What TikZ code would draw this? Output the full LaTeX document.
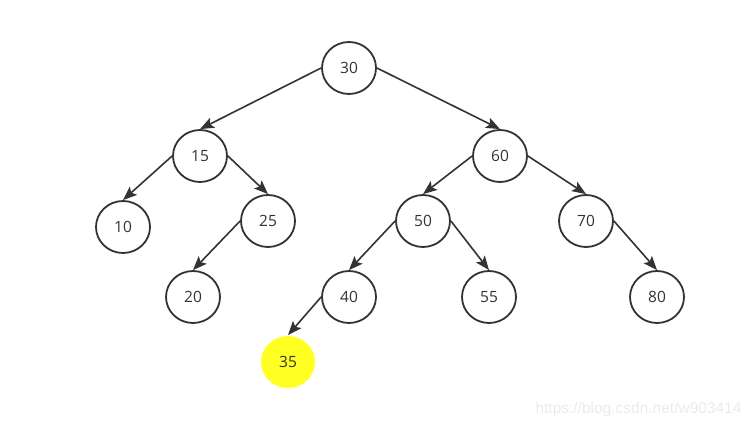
\documentclass[tikz,border=0pt]{standalone}
\usepackage{fontspec}
\setmainfont{Open Sans}
\newfontfamily\markfont{Liberation Sans}
\usetikzlibrary{arrows.meta}
\usetikzlibrary{shapes, shapes.geometric}
\definecolor{ink}{HTML}{333333}
\definecolor{hilite}{HTML}{FFFF22}
\tikzset{>={Stealth[length=14pt,width=11pt,inset=3pt]}}
\tikzstyle{key} = [%
					ellipse,
					draw = ink,
					line width = 1.8pt,
					minimum width = 54pt,
					minimum height = 52pt,
					inner sep = 0pt,
					text = ink,
					font = \fontsize{15.5}{17}\selectfont]
\tikzstyle{newkey} = [%
					key,
					draw = none,
					fill = hilite]
\tikzstyle{link} = [%
					->,
					line width = 1.6pt,
					color = ink]

\begin{document}
\begin{tikzpicture}[x=1pt,y=-1pt]
	
	% Frame
	\useasboundingbox (0,0) rectangle (751,427);
	
	% Nodes
	\node[key] (n30) at (349,68) {30};
	%% level 1
	\node[key] (n15) at (200,156) {15};
	\node[key] (n60) at (500,156) {60};
	%% level 2
	\node[key] (n10) at (123,227) {10};
	\node[key] (n25) at (268,221) {25};
	\node[key] (n50) at (423,221) {50};
	\node[key] (n70) at (586,221) {70};
	%% level 3
	\node[key] (n20) at (193,297) {20};
	\node[key] (n40) at (349,297) {40};
	\node[key] (n55) at (489,297) {55};
	\node[key] (n80) at (657,297) {80};
	%% inserted
	\node[newkey] (n35) at (288,362) {35};
	
	% Links
	\draw[link] (n30.west) -- (n15.north);
	\draw[link] (n30.east) -- (n60.north);
	\draw[link] (n15.west) -- (n10.north);
	\draw[link] (n15.east) -- (n25.north);
	\draw[link] (n25.west) -- (n20.north);
	\draw[link] (n60.west) -- (n50.north);
	\draw[link] (n60.east) -- (n70.north);
	\draw[link] (n50.west) -- (n40.north);
	\draw[link] (n50.east) -- (n55.north);
	\draw[link] (n70.east) -- (n80.north);
	\draw[link] (n40.west) -- (n35.north);
	
	% Watermark
	\node[anchor=east, text=black!8, font=\markfont\fontsize{15.5}{17}\selectfont] (mark) at (745,409) {https://blog.csdn.net/w903414};
\end{tikzpicture}
\end{document}
